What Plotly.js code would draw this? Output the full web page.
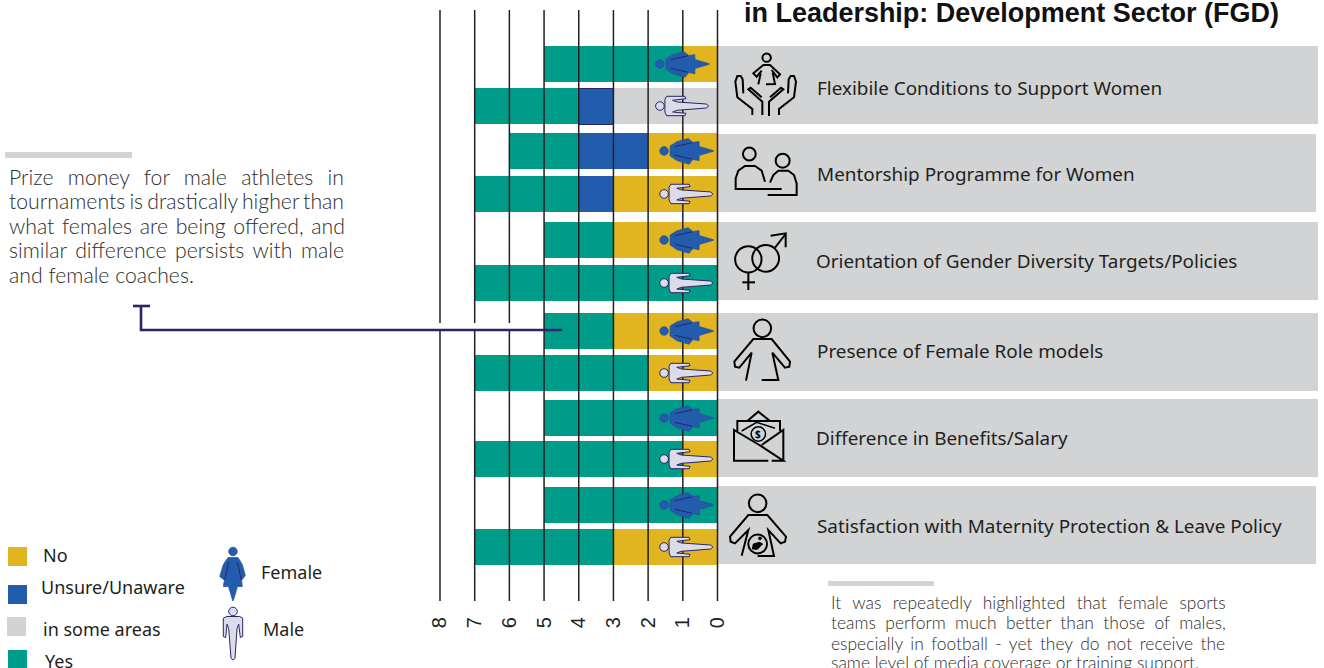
<!DOCTYPE html>
<html>
<head>
<meta charset="utf-8">
<script src="https://cdn.plot.ly/plotly-3.0.1.min.js"></script>
<style>html,body{margin:0;padding:0;background:#fff;overflow:hidden}
.js-plotly-plot .plotly .xtick.crisp,.js-plotly-plot .plotly .ticks.crisp{shape-rendering:geometricPrecision !important}</style>
</head>
<body>
<div id="chart" style="width:1324px;height:668px"></div>
<script>
// ---------- data ----------
const rowGender = ['Female','Male','Female','Male','Female','Male','Female','Male','Female','Male','Female','Male'];
const noValues      = [1,0,2,3,3,0,3,2,0,1,0,3];
const someValues    = [0,3,0,0,0,0,0,0,0,0,0,0];
const unsureValues  = [0,1,2,1,0,0,0,0,0,0,0,0];
const yesValues     = [4,3,2,3,2,7,2,5,5,6,5,4];
const rowPositions  = [0,0.957,1.98,2.96,4.009,4.989,6.082,7.039,8.064,8.998,10.046,11.002];
const tickValues    = [0,1,2,3,4,5,6,7,8];
const themeLabels = [
  'Flexibile Conditions to Support Women',
  'Mentorship Programme for Women',
  'Orientation of Gender Diversity Targets/Policies',
  'Presence of Female Role models',
  'Difference in Benefits/Salary',
  'Satisfaction with Maternity Protection & Leave Policy'
];
const titleText = 'in Leadership: Development Sector (FGD)';
const leftNote = ['Prize money for male athletes in','tournaments is drastically higher than','what females are being offered, and','similar difference persists with male','and female coaches.'];
const rightNote = ['It was repeatedly highlighted that female sports','teams perform much better than those of males,','especially in football - yet they do not receive the','same level of media coverage or training support.'];

// ---------- style ----------
const C = {no:'#e1b520', unsure:'#225dad', some:'#d1d3d4', yes:'#009c8a', ink:'#231f20', navy:'#2a2566', male:'#dcdce8', text:'#231f20', note:'#2c2c2c'};
const W = 1324, H = 668;
const FONT = '"Noto Sans", sans-serif';
const NOTE = 'Lato, sans-serif';
const px = x => x / W, py = y => 1 - y / H;

const measureCtx = document.createElement('canvas').getContext('2d');
function natural(t,size,weight,family){ measureCtx.font = `${weight} ${size}px ${family}`; return measureCtx.measureText(t).width; }
function fitSize(t,width,weight,family){ return 100*width/natural(t,100,weight,family); }
function gap(t,width,size,weight,family){ return (width-natural(t,size,weight,family))/(t.split(' ').length-1); }

const shapes = [], annotations = [];
function rect(x0,y0,x1,y1,fill,layer){ shapes.push({type:'rect',xref:'paper',yref:'paper',x0:px(x0),x1:px(x1),y0:py(y0),y1:py(y1),fillcolor:fill,line:{width:0},layer:layer||'above'}); }
function poly(pts,opts){
  opts=opts||{};
  const d = pts.map((p,i)=>(i?'L':'M')+px(p[0])+','+py(p[1])).join('')+(opts.close?'Z':'');
  shapes.push({type:'path',xref:'paper',yref:'paper',path:d,fillcolor:opts.fill||'rgba(0,0,0,0)',line:{color:opts.color||'#000',width:opts.width===undefined?2:opts.width},layer:'above'});
}
function ring(cx,cy,r,opts){
  opts=opts||{};
  shapes.push({type:'circle',xref:'paper',yref:'paper',x0:px(cx-r),x1:px(cx+r),y0:py(cy-r),y1:py(cy+r),fillcolor:opts.fill||'rgba(0,0,0,0)',line:{color:opts.color||'#000',width:opts.width===undefined?2:opts.width},layer:'above'});
}
function text(t,x,y,size,o){
  o=o||{};
  annotations.push({text:o.spacing?`<span style="word-spacing:${o.spacing.toFixed(2)}px">${t}</span>`:t,xref:'paper',yref:'paper',x:px(x),y:py(y),xanchor:o.anchor||'left',yanchor:'middle',showarrow:false,borderpad:0,borderwidth:0,font:{family:o.family||FONT,size:size,color:o.color||C.text,weight:o.weight||400}});
}

// ---------- grey theme panels ----------
[[718,1318,46,124],[718,1316,134,212],[718,1318,222,300],[718,1318,313,391],[718,1318,399,477],[718,1316,486,564]]
  .forEach(p=>rect(p[0],p[2],p[1],p[3],C.some,'below'));
const labelX=[817,817,816,817,816,817], labelY=[88,174,261,351,438,526];
themeLabels.forEach((t,i)=>text(t.replace('&','&amp;'),labelX[i],labelY[i],18.9));

// ---------- person glyphs ----------
const femaleBody=[[6,-5],[13,-9.3],[24,-12.3],[28.7,-8.6],[35,-9.3],[35,-4.5],[49.3,-0.3],[49.3,0.3],[35,4.5],[35,9.7],[28.7,8.6],[25,13.3],[13,9.7],[6,5]];
const femaleArmA=[[10.7,-4.3],[28.3,-8.3]], femaleArmB=[[10.7,4.3],[28.3,8.3]];
const maleBody=[[6.7,-9.7],[25,-9.7],[26,-7.3],[12.7,-5.7],[17.3,-4],[46.7,-2],[48.7,0],[46.7,2],[17.3,4.3],[12.7,6],[26,7.3],[25,9.7],[6.7,9.7],[5,6],[5,-6.7]];
const relPath=(pts,close,rot)=>pts.map((p,i)=>{const q=rot?[-p[1],p[0]]:p;return (i?'L':'M')+q[0]+','+(-q[1]);}).join('')+(close?'Z':'');
function glyph(kind,anchor,rot){
  const fill = kind==='Female'?C.unsure:C.male;
  const base = Object.assign({xsizemode:'pixel',ysizemode:'pixel',layer:'above',line:{color:kind==='Female'?'#2a4a9a':C.navy,width:kind==='Female'?0.7:1}},anchor);
  const body = kind==='Female'?femaleBody:maleBody;
  shapes.push(Object.assign({},base,{type:'path',path:relPath(body,true,rot),fillcolor:fill}));
  if(kind==='Female'){
    const arm=Object.assign({},base,{line:{color:C.navy,width:1},type:'path'});
    shapes.push(Object.assign({},arm,{path:relPath(femaleArmA,false,rot)}));
    shapes.push(Object.assign({},arm,{path:relPath(femaleArmB,false,rot)}));
  }
  shapes.push(Object.assign({},base,{type:'circle',x0:-4.3,x1:4.3,y0:-4.3,y1:4.3,fillcolor:fill}));
}
rowGender.forEach((g,i)=>glyph(g,{xref:'x',yref:'y',xanchor:i<2?1.66:1.54,yanchor:rowPositions[i]},false));
glyph('Female',{xref:'paper',yref:'paper',xanchor:px(233),yanchor:py(551.5)},true);
glyph('Male',{xref:'paper',yref:'paper',xanchor:px(233),yanchor:py(611.5)},true);

// ---------- legend ----------
rect(8,547,27,566,C.no); rect(8,585,27,604,C.unsure); rect(7,617,26,636,C.some); rect(8,650,27,668,C.yes);
text('No',43,555,18); text('Unsure/Unaware',41,587,18); text('in some areas',43,629,18); text('Yes',45,661,18);
text('Female',261,572,18); text('Male',263,629,18);

// ---------- title & notes ----------
const titleFamily='Liberation Sans';
text(titleText,744,13,fitSize(titleText,535,700,titleFamily),{family:titleFamily+', sans-serif',weight:700,color:'#111'});
rect(5,152,132,158,'#d1d3d4');
const ly=[177,201,226,250,275];
const lSize=fitSize(leftNote[4],185,300,'Lato');
leftNote.forEach((t,i)=>text(t,9,ly[i],lSize,{family:NOTE,weight:300,color:C.note,spacing:i<4?gap(t,336,lSize,300,'Lato'):0}));
rect(828,581,934,586,'#d1d3d4');
const ry=[602,622,643,662];
const rSize=fitSize(rightNote[3],369,300,'Lato');
rightNote.forEach((t,i)=>text(t,831,ry[i],rSize,{family:NOTE,weight:300,color:C.note,spacing:i<3?gap(t,395.5,rSize,300,'Lato'):0}));

// ---------- callout ----------
rect(435,323,535,329.5,'#ffffff');
poly([[141,306],[141,330],[562,330]],{color:C.navy,width:2.6});
poly([[133,306],[150,306]],{color:C.navy,width:2.6});

// ---------- icons (points read at 3x; origin given) ----------
const Z=(ox,oy,pts)=>pts.map(p=>[ox+p[0]/3,oy+p[1]/3]);
const ic=(ox,oy,pts,o)=>poly(Z(ox,oy,pts),o);
// 1 baby in hands
let o=[720,40];
ic(o[0],o[1],[[97,225],[97,207],[52,172],[46,125],[52,108],[62,108],[68,118],[70,160]]);
ic(o[0],o[1],[[127,225],[127,185],[85,148],[92,143],[125,172]]);
ic(o[0],o[1],[[177,225],[177,207],[222,172],[228,125],[222,108],[212,108],[206,118],[204,160]]);
ic(o[0],o[1],[[147,228],[147,185],[190,148],[183,143],[150,172]]);
ring(720+140/3,40+53/3,4.2);
ic(o[0],o[1],[[125,92],[110,110],[100,100],[130,75],[150,75],[180,103],[172,112],[155,90]]);
ic(o[0],o[1],[[122,100],[115,133]]);
ic(o[0],o[1],[[158,98],[165,132],[138,133]]);
// 2 mentor
ring(720+88/3,40+342/3,6.4);
ic(o[0],o[1],[[185,447],[47,447],[47,415],[55,392],[75,378],[105,378],[125,392],[135,425]]);
ring(720+188/3,40+362/3,7);
ic(o[0],o[1],[[150,428],[160,405],[175,392],[205,392],[222,405],[230,430],[230,465],[143,465]]);
// 3 gender
o=[720,220];
ring(720+85/3,220+118/3,13.2); ring(720+137/3,220+115/3,13.4);
ic(o[0],o[1],[[85,158],[85,210]]); ic(o[0],o[1],[[67,187],[105,187]]);
ic(o[0],o[1],[[165,83],[197,42]]); ic(o[0],o[1],[[152,47],[197,40],[197,82]]);
// 4 role model
ring(720+127/3,220+325/3,8.8);
ic(o[0],o[1],[[78,482],[95,398],[58,443],[45,440],[43,425],[100,357],[155,357],[210,425],[208,440],[195,443],[157,398],[175,480],[125,480]]);
// 5 envelope
o=[720,395];
ic(o[0],o[1],[[145,197],[42,197],[42,105],[118,150],[190,197],[155,197]]);
ic(o[0],o[1],[[190,197],[190,105],[125,150]]);
ic(o[0],o[1],[[52,108],[52,78],[180,78],[180,108]]);
ic(o[0],o[1],[[82,78],[115,50],[150,78]]);
ic(o[0],o[1],[[65,108],[110,82],[165,100]],{width:1.5});
ring(720+115/3,395+117/3,7.2,{width:1.5});
text('$',758.3,434,10,{anchor:'center',color:'#000',weight:700});
// 6 maternity
ring(720+113/3,395+325/3,8.8);
ic(o[0],o[1],[[65,482],[85,405],[45,445],[32,440],[30,425],[85,360],[142,360],[198,425],[195,440],[182,445],[145,405],[162,483],[113,483]]);
ring(720+113/3,395+447/3,9.4);
ring(720+120/3,395+430/3,1.8,{fill:'#000',width:0});
ic(o[0],o[1],[[100,447],[118,442],[128,447],[112,463],[97,462]],{fill:'#000',width:1,close:true});

// ---------- traces ----------
const makeBar=(name,vals,color,line)=>({type:'bar',orientation:'h',name:name,x:vals,y:rowPositions,width:0.82,marker:{color:color,line:line||{width:0}},showlegend:false,hovertemplate:name+': %{x}<extra></extra>'});
const traces=[
  makeBar('No',noValues,C.no),
  makeBar('in some areas',someValues,C.some),
  makeBar('Unsure/Unaware',unsureValues,C.unsure,{color:C.navy,width:rowGender.map((g,i)=>i===1?1:0)}),
  makeBar('Yes',yesValues,C.yes)
];
const unit=(717.5-440)/8, pad=0.05;
const layout={
  width:W,height:H,margin:{l:0,r:0,t:0,b:0},autosize:false,
  paper_bgcolor:'#fff',plot_bgcolor:'rgba(0,0,0,0)',barmode:'stack',showlegend:false,
  xaxis:{domain:[px(440-pad*unit),px(717.5+pad*unit)],range:[8+pad,-pad],tickmode:'array',tickvals:tickValues,ticktext:tickValues.map(String),
    ticks:'inside',ticklen:591,tickwidth:1.5,tickcolor:C.ink,showgrid:false,zeroline:false,showline:false,layer:'above traces',
    tickangle:-90,ticklabelstandoff:11,tickfont:{family:'Liberation Sans, sans-serif',size:20,color:C.ink},fixedrange:true},
  yaxis:{domain:[py(601),py(10)],range:[12.232,-1.23],visible:false,fixedrange:true},
  shapes:shapes,annotations:annotations
};
Plotly.newPlot('chart',traces,layout,{displayModeBar:false,staticPlot:true});
</script>
</body>
</html>
